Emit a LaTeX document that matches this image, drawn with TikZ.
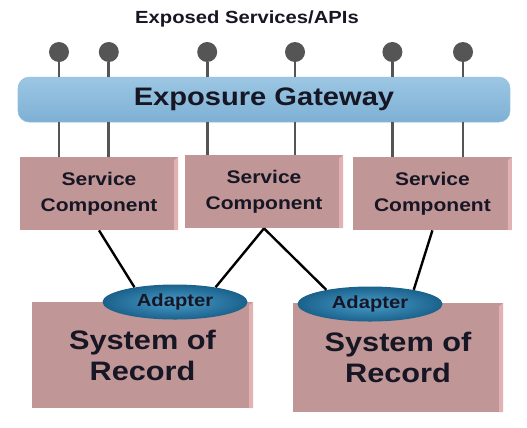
\documentclass[tikz,border=0pt]{standalone}
\usepackage{fontspec}
\setmainfont{Liberation Sans}[FakeStretch=1.15]
\usepackage{tikz}
\usetikzlibrary{shapes.geometric, positioning, calc}
\definecolor{recpink}{RGB}{193,150,150}
\definecolor{recside}{RGB}{226,178,178}
\definecolor{gwtop}{RGB}{156,199,228}
\definecolor{gwbottom}{RGB}{126,176,212}
\definecolor{gwedge}{RGB}{150,192,222}
\definecolor{adinner}{RGB}{74,156,202}
\definecolor{adouter}{RGB}{26,98,140}
\definecolor{pingray}{RGB}{85,85,85}
\definecolor{inkdark}{RGB}{22,22,36}

\begin{document}
\begin{tikzpicture}[
  font=\bfseries, text=inkdark,
  slab/.style={rectangle, fill=recpink, align=center, inner sep=0pt,
    path picture={\fill[recside] ($(path picture bounding box.north east)+(-0.1,-0.08)$) -- (path picture bounding box.north east) -- (path picture bounding box.south east) -- ($(path picture bounding box.south east)+(-0.1,0)$) -- cycle;}},
  svcbox/.style={slab, minimum width=3.95cm, minimum height=1.825cm, font=\bfseries\fontsize{13}{18.5}\selectfont},
  sorbox/.style={slab, minimum height=2.65cm, font=\bfseries\fontsize{19}{22}\selectfont},
  gwbar/.style={rectangle, rounded corners=8pt, top color=gwtop, bottom color=gwbottom, draw=gwedge, minimum width=12.3cm, minimum height=1.125cm, font=\bfseries\fontsize{18}{20}\selectfont},
  adapter/.style={ellipse, inner color=adinner, outer color=adouter, minimum width=3.625cm, minimum height=0.875cm, inner sep=0pt, font=\bfseries\fontsize{12.5}{14}\selectfont},
  apidot/.style={circle, fill=pingray, minimum size=0.5cm, inner sep=0pt},
  stem/.style={line width=2pt, pingray},
  link/.style={line width=1.7pt, black}
]
  \useasboundingbox (0,0) rectangle (13.175,-10.675);
  % Title
  \node[font=\bfseries\fontsize{12.5}{14}\selectfont] (title) at (6.175,-0.475) {Exposed Services/APIs};
  % Gateway
  \node[gwbar] (gw) at (6.6,-2.49) {Exposure Gateway};
  % Service components
  \node[svcbox] (sc1) at (2.475,-4.84) {Service\\Component};
  \node[svcbox] (sc2) at (6.6,-4.79) {Service\\Component};
  \node[svcbox, minimum width=3.975cm] (sc3) at (10.81,-4.84) {Service\\Component};
  % Systems of record
  \node[sorbox, minimum width=5.525cm] (sor1) at (3.5625,-8.875) {System of\\Record};
  \node[sorbox, minimum width=5.25cm, minimum height=2.725cm] (sor2) at (9.95,-8.94) {System of\\Record};
  % Adapters
  \node[adapter] (ad1) at (4.375,-7.55) {Adapter};
  \node[adapter] (ad2) at (9.25,-7.6) {Adapter};
  % Exposed services
  \node[apidot] (api1) at (1.475,-1.3) {};
  \node[apidot] (api2) at (2.72,-1.3) {};
  \node[apidot] (api3) at (5.18,-1.3) {};
  \node[apidot] (api4) at (7.375,-1.3) {};
  \node[apidot] (api5) at (9.81,-1.3) {};
  \node[apidot] (api6) at (11.575,-1.3) {};
  % Stems through the gateway
  \draw[stem] (api1) -- (api1 |- gw.north);
  \draw[stem] (api2) -- (api2 |- gw.north);
  \draw[stem] (api3) -- (api3 |- gw.north);
  \draw[stem] (api4) -- (api4 |- gw.north);
  \draw[stem] (api5) -- (api5 |- gw.north);
  \draw[stem] (api6) -- (api6 |- gw.north);
  \draw[stem] (api1 |- gw.south) -- (api1 |- sc1.north);
  \draw[stem] (api2 |- gw.south) -- (api2 |- sc1.north);
  \draw[stem] (api3 |- gw.south) -- (api3 |- sc2.north);
  \draw[stem] (api4 |- gw.south) -- (api4 |- sc2.north);
  \draw[stem] (api5 |- gw.south) -- (api5 |- sc3.north);
  \draw[stem] (api6 |- gw.south) -- (api6 |- sc3.north);
  % Components to adapters
  \draw[link] (sc1.south) -- (ad1.160);
  \draw[link] (sc2.south) -- (ad1.20);
  \draw[link] (sc2.south) -- (ad2.162);
  \draw[link] (sc3.south) -- (ad2.18);
\end{tikzpicture}
\end{document}
